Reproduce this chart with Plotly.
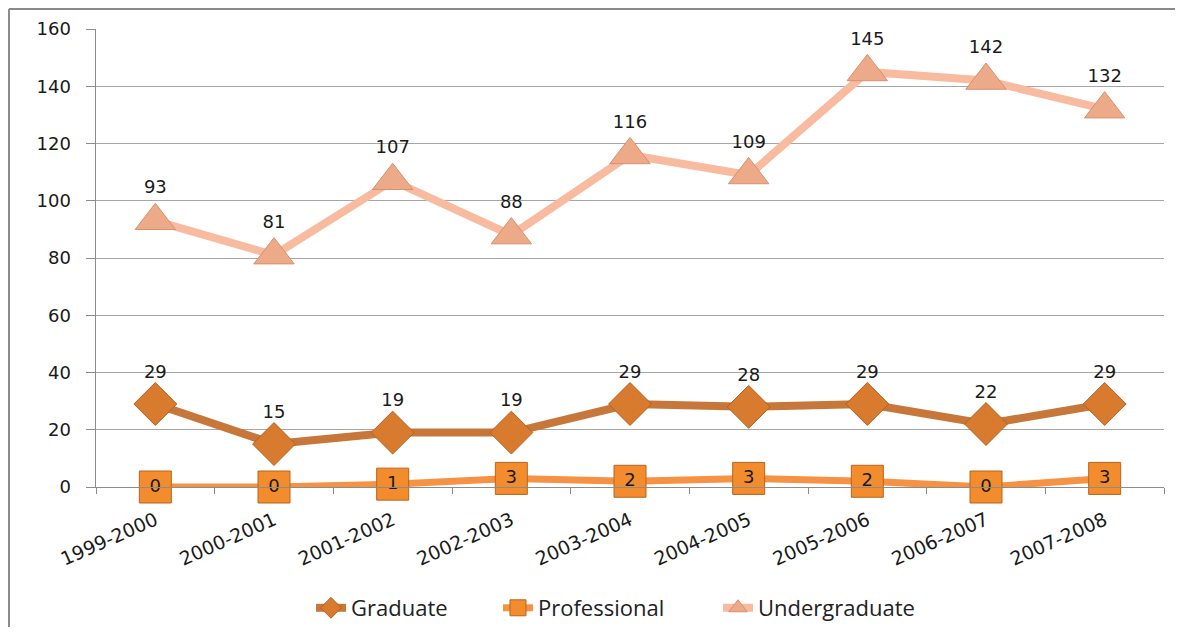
import plotly.graph_objects as go

years = ["1999-2000", "2000-2001", "2001-2002", "2002-2003", "2003-2004",
         "2004-2005", "2005-2006", "2006-2007", "2007-2008"]
graduate = [29, 15, 19, 19, 29, 28, 29, 22, 29]
professional = [0, 0, 1, 3, 2, 3, 2, 0, 3]
undergraduate = [93, 81, 107, 88, 116, 109, 145, 142, 132]

label_font = dict(family="DejaVu Sans", size=18, color="#1a1a1a")

fig = go.Figure()
fig.add_trace(go.Scatter(
    x=years, y=graduate, name="Graduate", mode="lines+markers+text",
    line=dict(color="#C8773A", width=8),
    marker=dict(symbol="diamond", size=33, color="#D97B2E",
                line=dict(color="#B4601F", width=1)),
    text=[str(v) for v in graduate], textposition="top center",
    textfont=label_font, cliponaxis=False, legend="legend",
))
fig.add_trace(go.Scatter(
    x=years, y=professional, name="Professional", mode="lines+markers+text",
    line=dict(color="#F69244", width=7),
    marker=dict(symbol="square", size=32, color="#F28C2C",
                line=dict(color="#B8651E", width=1)),
    text=[str(v) for v in professional], textposition="middle center",
    textfont=label_font, cliponaxis=False, legend="legend2",
))
fig.add_trace(go.Scatter(
    x=years, y=undergraduate, name="Undergraduate", mode="lines+markers+text",
    line=dict(color="#F8BBA0", width=8),
    marker=dict(symbol="triangle-up", size=35, color="#EDAA88",
                line=dict(color="#D6906E", width=1)),
    text=[str(v) for v in undergraduate], textposition="top center",
    textfont=label_font, cliponaxis=False, legend="legend3",
))

legend_font = dict(family="Open Sans", size=22, color="#222222")
def leg(x):
    return dict(orientation="h", x=x, xanchor="left", xref="paper",
                y=0.0307, yanchor="middle", yref="container",
                font=legend_font, bgcolor="rgba(0,0,0,0)")

axis_gray = "#8C8C8C"
# page body has an 8px margin, so the figure is sized to fit the 1183x635 window
fig.update_layout(
    width=1167, height=619,
    margin=dict(l=88, r=11, t=21, b=140),
    paper_bgcolor="white", plot_bgcolor="white",
    showlegend=True,
    legend=leg(0.2013), legend2=leg(0.3764), legend3=leg(0.5824),
    xaxis=dict(
        type="category", range=[-0.5, 8.5], showgrid=False,
        showline=True, linecolor=axis_gray, linewidth=1,
        ticks="outside", ticklen=6, tickcolor=axis_gray, tickson="boundaries",
        tickangle=-24, ticklabelstandoff=14,
        tickfont=dict(family="DejaVu Sans", size=19, color="#1a1a1a"),
    ),
    yaxis=dict(
        range=[0, 160], dtick=20, showgrid=True, gridcolor="#A6A6A6", gridwidth=1,
        showline=True, linecolor=axis_gray, linewidth=1,
        ticks="outside", ticklen=9, tickcolor=axis_gray, zeroline=False,
        tickfont=dict(family="DejaVu Sans", size=18, color="#1a1a1a"),
        ticksuffix="  ",
    ),
    shapes=[
        dict(type="line", xref="paper", yref="paper", x0=-0.0815, x1=1.1,
             y0=1.0437, y1=1.0437, line=dict(color="#8A8A8A", width=2)),
        dict(type="line", xref="paper", yref="paper", x0=-0.0815, x1=-0.0815,
             y0=1.0437, y1=-0.4, line=dict(color="#8A8A8A", width=2)),
    ],
)

fig.write_html("out.html")
